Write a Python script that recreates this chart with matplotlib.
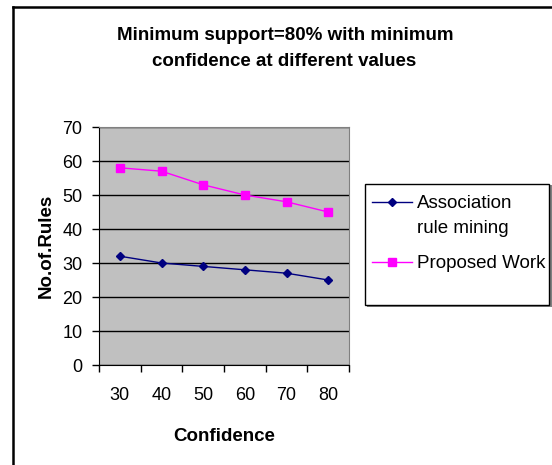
import numpy as np
import matplotlib
matplotlib.use('Agg')
import matplotlib.pyplot as plt
from matplotlib.lines import Line2D
from matplotlib.patches import Rectangle

plt.rcParams['font.family'] = ['Liberation Sans', 'DejaVu Sans']

# data
confidence = ['30', '40', '50', '60', '70', '80']
assoc_rules = [32, 30, 29, 28, 27, 25]
proposed_work = [58, 57, 53, 50, 48, 45]

W, H = 552, 465
fig = plt.figure(figsize=(W / 100, H / 100), dpi=100)

def fx(px):
    return px / W

def fy(py):
    return 1 - py / H

# outer chart frame (only top and left edges show in the picture)
fig.add_artist(Line2D([fx(12.5), 1.0], [fy(7.5), fy(7.5)],
                      transform=fig.transFigure, color='black', lw=1.8))
fig.add_artist(Line2D([fx(12.5), fx(12.5)], [0.0, fy(7.5)],
                      transform=fig.transFigure, color='black', lw=1.8))

ax = fig.add_axes([fx(99), 100 / H, 250 / W, 238 / H])
ax.set_facecolor('#C0C0C0')

x = np.arange(len(confidence)) + 0.5
series = [
    (assoc_rules, 'Association\nrule mining', '#000080', 'D', 4.5),
    (proposed_work, 'Proposed Work', '#FF00FF', 's', 6),
]
for vals, name, col, mk, ms in series:
    ax.plot(x, vals, color=col, marker=mk, markersize=ms, lw=1.0, label=name)

ax.set_xlim(0, len(confidence))
ax.set_ylim(0, 70)
ax.set_yticks(np.arange(0, 71, 10))
ax.set_xticks(np.arange(0, len(confidence) + 1))
ax.set_xticklabels([])
ax.set_xticks(x, minor=True)
ax.set_xticklabels(confidence, minor=True)
ax.tick_params(axis='x', which='minor', length=0, pad=16, labelsize=13)
ax.tick_params(axis='x', which='major', direction='out', length=5, width=1)
ax.tick_params(axis='y', direction='out', length=5, width=1, labelsize=13, pad=7)
ax.yaxis.grid(True, color='black', lw=1)
ax.set_axisbelow(True)

for side in ['top', 'right']:
    ax.spines[side].set_color('#808080')
for side in ['left', 'bottom']:
    ax.spines[side].set_color('black')

ax.set_xlabel('Confidence', fontsize=13.5, fontweight='bold', labelpad=17)
ax.set_ylabel('No.of.Rules', fontsize=13.5, fontweight='bold', labelpad=5)

fig.text(fx(285), fy(36), 'Minimum support=80% with minimum',
         ha='center', va='center', fontsize=13.5, fontweight='bold')
fig.text(fx(284), fy(62), 'confidence at different values',
         ha='center', va='center', fontsize=13.5, fontweight='bold')

# legend box, with a thin grey shadow
fig.add_artist(Rectangle((fx(366.5), fy(306.5)), 185 / W, 121 / H,
                         transform=fig.transFigure, facecolor='#808080',
                         edgecolor='none'))
fig.add_artist(Rectangle((fx(365), fy(305)), 184 / W, 121 / H,
                         transform=fig.transFigure, facecolor='white',
                         edgecolor='black', lw=1))

# legend entries, built from the plotted lines
entry_y = [202, 262]
for line, ey in zip(ax.get_lines(), entry_y):
    fig.add_artist(Line2D([fx(372), fx(412)], [fy(ey), fy(ey)],
                          transform=fig.transFigure, color=line.get_color(),
                          lw=1.0))
    fig.add_artist(Line2D([fx(392)], [fy(ey)], transform=fig.transFigure,
                          color=line.get_color(), marker=line.get_marker(),
                          markersize=line.get_markersize()))
    fig.text(fx(417), fy(ey - 7), line.get_label(), ha='left', va='top',
             fontsize=13.5, linespacing=1.6)

fig.savefig('out.png', dpi=100)
